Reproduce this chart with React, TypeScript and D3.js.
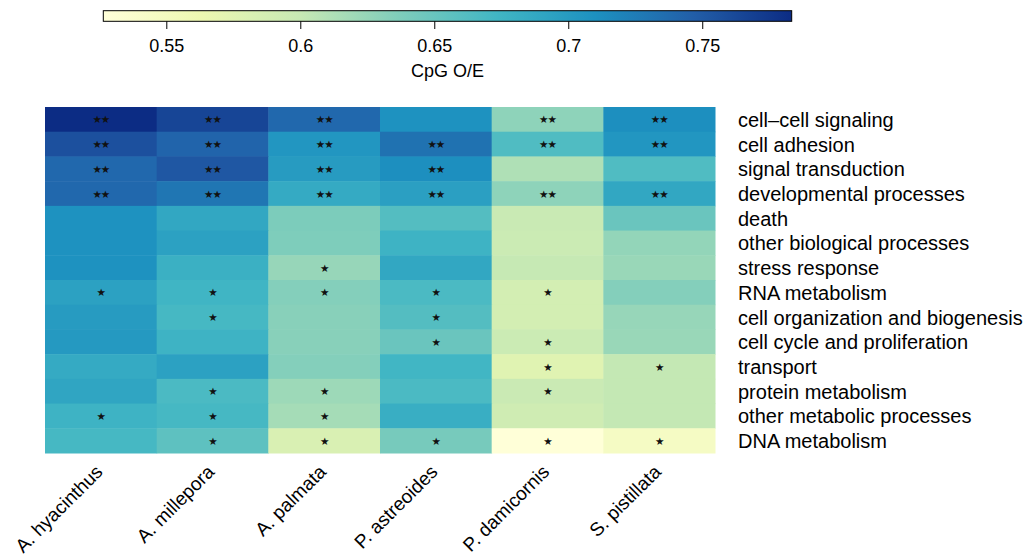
import React from "react";
import * as d3 from "d3";

const species = ["A. hyacinthus", "A. millepora", "A. palmata", "P. astreoides", "P. damicornis", "S. pistillata"];
const categories = [
  "cell–cell signaling",
  "cell adhesion",
  "signal transduction",
  "developmental processes",
  "death",
  "other biological processes",
  "stress response",
  "RNA metabolism",
  "cell organization and biogenesis",
  "cell cycle and proliferation",
  "transport",
  "protein metabolism",
  "other metabolic processes",
  "DNA metabolism",
];
// CpG O/E values, one row per category, columns follow `species`
const values = [
  [0.783, 0.765, 0.739, 0.709, 0.629, 0.711],
  [0.757, 0.742, 0.705, 0.732, 0.664, 0.705],
  [0.739, 0.752, 0.700, 0.711, 0.612, 0.664],
  [0.739, 0.729, 0.685, 0.696, 0.629, 0.688],
  [0.709, 0.688, 0.638, 0.662, 0.598, 0.649],
  [0.709, 0.694, 0.637, 0.676, 0.596, 0.626],
  [0.709, 0.679, 0.624, 0.688, 0.600, 0.623],
  [0.694, 0.674, 0.634, 0.667, 0.588, 0.634],
  [0.700, 0.670, 0.632, 0.662, 0.588, 0.624],
  [0.702, 0.676, 0.632, 0.649, 0.596, 0.623],
  [0.685, 0.694, 0.634, 0.673, 0.576, 0.601],
  [0.690, 0.667, 0.621, 0.667, 0.597, 0.601],
  [0.676, 0.670, 0.617, 0.681, 0.592, 0.601],
  [0.670, 0.656, 0.582, 0.641, 0.527, 0.546],
];
const notes = [
  ["**", "**", "**", "", "**", "**"],
  ["**", "**", "**", "**", "**", "**"],
  ["**", "**", "**", "**", "", ""],
  ["**", "**", "**", "**", "**", "**"],
  ["", "", "", "", "", ""],
  ["", "", "", "", "", ""],
  ["", "", "*", "", "", ""],
  ["*", "*", "*", "*", "*", ""],
  ["", "*", "", "*", "", ""],
  ["", "", "", "*", "*", ""],
  ["", "", "", "", "*", "*"],
  ["", "*", "*", "", "*", ""],
  ["*", "*", "*", "", "", ""],
  ["", "*", "*", "*", "*", "*"],
];
const palette = ["#ffffd9", "#edf8b1", "#c7e9b4", "#7fcdbb", "#41b6c4", "#1d91c0", "#225ea8", "#0c2c84"];
const colorDomain = [0.5263, 0.7832];
const colorTicks = [0.55, 0.6, 0.65, 0.7, 0.75];

const W = 1031;
const H = 558;
const FONT = "'Liberation Sans', Arial, Helvetica, sans-serif";

export default function App() {
  const x = d3.scaleBand<string>().domain(species).range([45, 715]).padding(0);
  const y = d3.scaleBand<string>().domain(categories).range([107, 453]).padding(0);
  const interp = d3.piecewise(d3.interpolateRgb, palette);
  const color = d3.scaleSequential(interp).domain(colorDomain as [number, number]);

  const cbX = d3.scaleLinear().domain(colorDomain).range([103.3, 791.7]);
  const cbTop = 10.7;
  const cbBottom = 21.3;
  const stops = d3.range(0, 1.0001, 1 / 28);

  const cells: React.ReactNode[] = [];
  const texts: React.ReactNode[] = [];
  categories.forEach((cat, i) => {
    species.forEach((sp, j) => {
      const x0 = x(sp)!;
      const y0 = y(cat)!;
      cells.push(
        <rect
          key={`c-${i}-${j}`}
          x={x0}
          y={y0}
          width={x.bandwidth() + 0.5}
          height={y.bandwidth() + 0.5}
          fill={color(values[i][j])}
        />
      );
      const n = notes[i][j];
      if (n) {
        texts.push(
          <text
            key={`n-${i}-${j}`}
            x={x0 + x.bandwidth() / 2}
            y={y0 + y.bandwidth() / 2 + 4}
            textAnchor="middle"
            fontSize={10.5}
            letterSpacing={-1}
            fontFamily="'DejaVu Sans', sans-serif"
            fill="#111"
          >
            {n.replace(/\*/g, "★")}
          </text>
        );
      }
    });
  });

  return (
    <svg
      width={W}
      height={H}
      style={{ position: "absolute", left: 0, top: 0, background: "#fff" }}
      fontFamily={FONT}
    >
      <defs>
        <linearGradient id="cb" x1="0" x2="1" y1="0" y2="0">
          {stops.map((t) => (
            <stop key={t} offset={`${t * 100}%`} stopColor={interp(Math.min(1, t))} />
          ))}
        </linearGradient>
      </defs>
      {/* colour bar */}
      <rect
        x={cbX.range()[0]}
        y={cbTop}
        width={cbX.range()[1] - cbX.range()[0]}
        height={cbBottom - cbTop}
        fill="url(#cb)"
        stroke="#000"
        strokeWidth={1}
      />
      {colorTicks.map((t) => (
        <g key={t}>
          <line x1={cbX(t)} x2={cbX(t)} y1={cbBottom} y2={29} stroke="#000" strokeWidth={1} />
          <text x={cbX(t)} y={52} textAnchor="middle" fontSize={18} fill="#000">
            {String(t)}
          </text>
        </g>
      ))}
      <text x={(cbX.range()[0] + cbX.range()[1]) / 2} y={77} textAnchor="middle" fontSize={18} fill="#000">
        CpG O/E
      </text>

      {/* heatmap */}
      <g>{cells}</g>
      <g>{texts}</g>

      {/* row labels */}
      {categories.map((cat) => (
        <text key={cat} x={738} y={y(cat)! + y.bandwidth() / 2 + 7.5} fontSize={20} fill="#000">
          {cat}
        </text>
      ))}

      {/* column labels */}
      {species.map((sp) => {
        const cx = x(sp)! + x.bandwidth() / 2 + 3;
        const cy = 473;
        return (
          <text
            key={sp}
            x={cx}
            y={cy}
            textAnchor="end"
            fontSize={19}
            fill="#000"
            transform={`rotate(-45 ${cx} ${cy})`}
          >
            {sp}
          </text>
        );
      })}
    </svg>
  );
}
